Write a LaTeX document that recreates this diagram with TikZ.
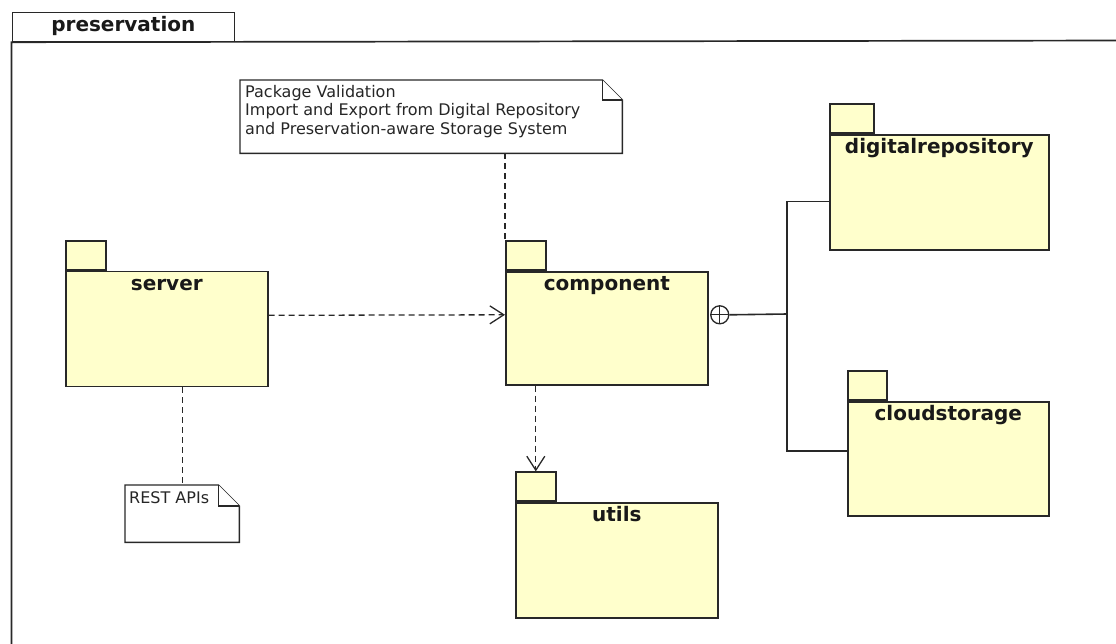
\documentclass[tikz,border=0pt]{standalone}
\usepackage{fontspec}
\setmainfont{DejaVu Sans}
\usetikzlibrary{arrows.meta,calc}
\definecolor{pkgfill}{RGB}{255,255,204}
\definecolor{ink}{RGB}{40,40,40}
\tikzset{
  pkgbody/.style={draw=ink, fill=pkgfill, line width=1.6pt, anchor=north west,
    inner sep=0pt},
  pkgtab/.style={draw=ink, fill=pkgfill, line width=1.6pt, anchor=south west,
    inner sep=0pt, minimum width=40pt, minimum height=29pt},
  pkgname/.style={font=\bfseries\fontsize{20}{24}\selectfont, text=black!90,
    inner sep=0pt, anchor=base},
  notebox/.style={anchor=north west, inner sep=0pt},
  noteline/.style={draw=ink, fill=white, line width=1.4pt, line join=miter},
  notetext/.style={font=\fontsize{16}{18.5}\selectfont, align=left,
    anchor=north west, inner sep=0pt, text=black!85},
  dep/.style={draw=ink, line width=1.3pt, dash pattern=on 6pt off 4pt,
    -{Straight Barb[length=14pt,width=18pt,line width=1.3pt]}},
  noteanchor/.style={draw=ink, line width=1.3pt, dash pattern=on 6pt off 4pt},
  nesting/.style={draw=ink, line width=1.6pt},
  frameline/.style={draw=ink, line width=1.7pt},
}
\begin{document}
\begin{tikzpicture}[x=1pt,y=-1pt]
\useasboundingbox (0,0) rectangle (1116,643);
\clip (0,0) rectangle (1116,643);

% enclosing package
\node[frameline, fill=white, anchor=north west, inner sep=0pt,
  minimum width=222pt, minimum height=29pt] (preservation-tab) at (11.5,11.5) {};
\node[pkgname] (preservation-name) at ([yshift=-19.5pt]preservation-tab.north) {preservation};
\draw[frameline] (11.5,660) -- (preservation-tab.south west) -- (1130,40.5);

% inner packages
\node[pkgbody, minimum width=202pt, minimum height=115pt] (server) at (65,270.5) {};
\node[pkgtab] (server-tab) at (server.north west) {};
\node[pkgname] (server-name) at ([yshift=-19.5pt]server.north) {server};

\node[pkgbody, minimum width=202pt, minimum height=113pt] (component) at (505,271) {};
\node[pkgtab] (component-tab) at (component.north west) {};
\node[pkgname] (component-name) at ([yshift=-19.5pt]component.north) {component};

\node[pkgbody, minimum width=202pt, minimum height=115pt] (utils) at (515,502) {};
\node[pkgtab] (utils-tab) at (utils.north west) {};
\node[pkgname] (utils-name) at ([yshift=-19pt]utils.north) {utils};

\node[pkgbody, minimum width=219pt, minimum height=115pt] (digitalrepository) at (829,134) {};
\node[pkgtab, minimum width=44pt] (digitalrepository-tab) at (digitalrepository.north west) {};
\node[pkgname] (digitalrepository-name) at ([yshift=-19pt]digitalrepository.north) {digitalrepository};

\node[pkgbody, minimum width=201pt, minimum height=114pt] (cloudstorage) at (847,401) {};
\node[pkgtab, minimum width=39pt] (cloudstorage-tab) at (cloudstorage.north west) {};
\node[pkgname] (cloudstorage-name) at ([yshift=-19pt]cloudstorage.north) {cloudstorage};

% notes
\node[notebox, minimum width=382pt, minimum height=73pt] (note-pkg) at (240,80) {};
\draw[noteline] (note-pkg.north west) -- ([xshift=-20pt]note-pkg.north east)
  -- ([yshift=-20pt]note-pkg.north east) -- (note-pkg.south east)
  -- (note-pkg.south west) -- cycle;
\draw[noteline] ([xshift=-20pt]note-pkg.north east) |- ([yshift=-20pt]note-pkg.north east);
\node[notetext] (note-pkg-text) at ([xshift=5pt,yshift=-5pt]note-pkg.north west)
  {Package Validation\\Import and Export from Digital Repository\\and Preservation-aware Storage System};

\node[notebox, minimum width=114pt, minimum height=57pt] (note-rest) at (125,485) {};
\draw[noteline] (note-rest.north west) -- ([xshift=-21pt]note-rest.north east)
  -- ([yshift=-21pt]note-rest.north east) -- (note-rest.south east)
  -- (note-rest.south west) -- cycle;
\draw[noteline] ([xshift=-21pt]note-rest.north east) |- ([yshift=-21pt]note-rest.north east);
\node[notetext] (note-rest-text) at ([xshift=4pt,yshift=-6pt]note-rest.north west) {REST APIs};

% note anchors
\draw[noteanchor] (component-tab.north west |- note-pkg.south) -- (component-tab.north west);
\draw[noteanchor] (note-rest.north |- server.south) -- (note-rest.north);

% dependencies
\draw[dep] ([yshift=13.5pt]server.east) -- ([yshift=13.5pt]component.west);
\draw[dep] (utils-tab.north |- component.south) -- (utils-tab.north);

% nesting connector
\node[circle, draw=ink, line width=1.3pt, fill=white, minimum size=18pt, inner sep=0pt,
  anchor=west, path picture={
    \draw[ink, line width=1.3pt] (path picture bounding box.north) -- (path picture bounding box.south)
      (path picture bounding box.west) -- (path picture bounding box.east);}]
  (nest) at ([xshift=1.5pt,yshift=13.5pt]component.east) {};
\coordinate (junction) at (787,314);
\draw[nesting] (nest.east) -- (junction);
\draw[nesting] (junction) |- (digitalrepository.west |- 0,201.5);
\draw[nesting] (junction) |- (cloudstorage.west |- 0,451);
\end{tikzpicture}
\end{document}
